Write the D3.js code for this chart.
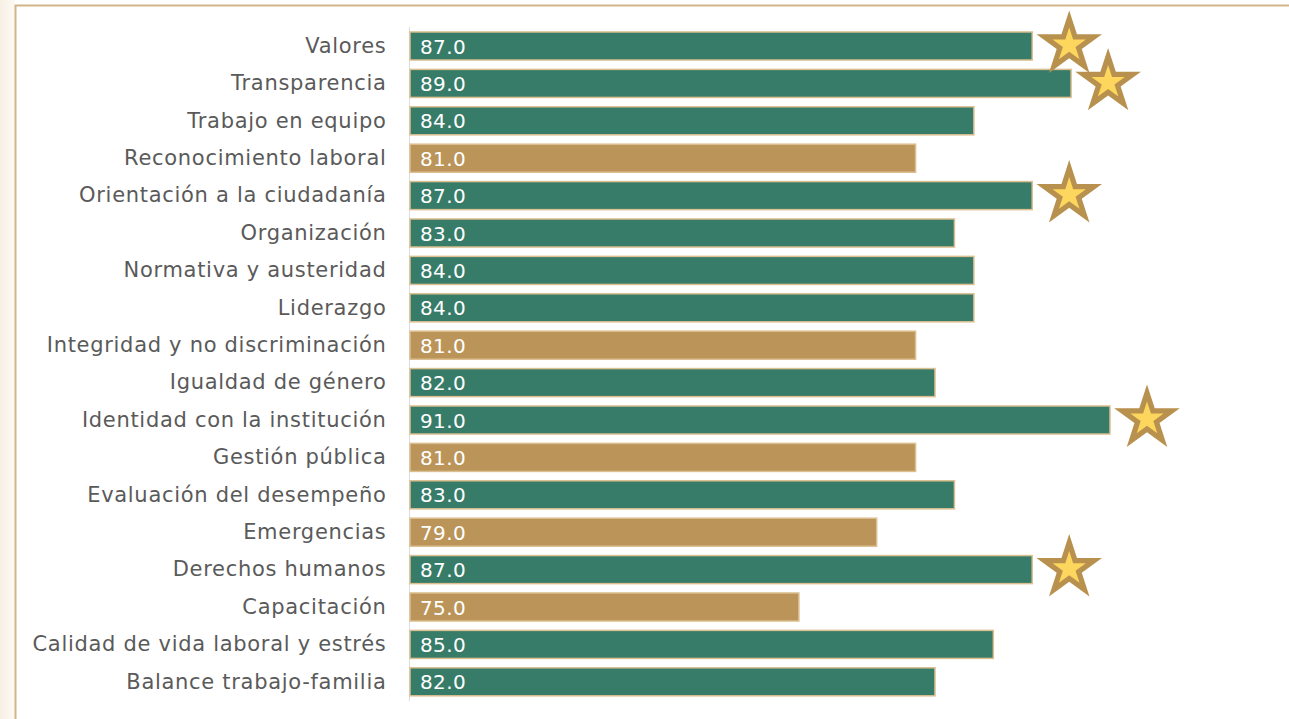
<!DOCTYPE html>
<html lang="es">
  <head>
    <meta charset="utf-8">
    <title>Resultados por factor</title>
    <script src="https://d3js.org/d3.v7.min.js"></script>
    <style>
      body {
        margin: 0;
        background-color: white;
      }
      svg {
        display: block;
        background-color: white;
      }
      .axis text {
        font-family: "DejaVu Sans", sans-serif;
        font-size: 21px;
        letter-spacing: 0.7px;
        fill: #5a5a5a;
      }
      .axis path {
        stroke: #dcdcdc;
      }
      .value {
        font-family: "DejaVu Sans", sans-serif;
        font-size: 20px;
        letter-spacing: 0.4px;
        fill: white;
      }
    </style>
  </head>
  <body>
    <script>
      var w = 1289;
      var h = 719;

      // factores, de arriba abajo
      var factores = [
        "Valores", "Transparencia", "Trabajo en equipo", "Reconocimiento laboral",
        "Orientación a la ciudadanía", "Organización", "Normativa y austeridad",
        "Liderazgo", "Integridad y no discriminación", "Igualdad de género",
        "Identidad con la institución", "Gestión pública", "Evaluación del desempeño",
        "Emergencias", "Derechos humanos", "Capacitación",
        "Calidad de vida laboral y estrés", "Balance trabajo-familia"
      ];
      var puntajes = [87, 89, 84, 81, 87, 83, 84, 84, 81, 82, 91, 81, 83, 79, 87, 75, 85, 82];
      // g = verde, o = dorado
      var grupo = ["g","g","g","o","g","g","g","g","o","g","g","o","g","o","g","o","g","g"];
      var destacados = ["Valores", "Transparencia", "Orientación a la ciudadanía",
                        "Identidad con la institución", "Derechos humanos"];

      var data = factores.map(function(f, i) {
        return { factor: f, valor: puntajes[i], grupo: grupo[i] };
      });

      var svg = d3.select("body").append("svg")
        .attr("width", w)
        .attr("height", h);

      // marco
      var grad = svg.append("defs").append("linearGradient")
        .attr("id", "sombra").attr("x1", 0).attr("x2", 1);
      grad.append("stop").attr("offset", 0).attr("stop-color", "#f7efe3");
      grad.append("stop").attr("offset", 1).attr("stop-color", "#fdfaf5");
      svg.append("rect").attr("x", 0).attr("y", 0).attr("width", 15).attr("height", h)
        .attr("fill", "url(#sombra)");
      svg.append("rect")
        .attr("x", 15.5).attr("y", 5.5).attr("width", w + 10).attr("height", h + 10)
        .attr("fill", "white").attr("stroke", "#d2b487").attr("stroke-width", 2);

      var x = d3.scaleLinear().domain([55, 91]).range([410, 1110]);
      var y = d3.scaleBand().domain(factores).range([27.3, 700.5])
        .paddingInner(0.25).paddingOuter(0.125);

      var colores = { g: "#377c68", o: "#bb9459" };

      svg.append("g")
        .attr("class", "axis")
        .attr("transform", "translate(409.5,0)")
        .call(d3.axisLeft(y).tickSize(0).tickPadding(23).tickSizeOuter(0))
        .call(function(g) { g.select(".domain").attr("d", "M0,27V701"); });

      svg.append("g").selectAll("rect")
        .data(data)
        .enter().append("rect")
        .attr("x", x(55))
        .attr("y", function(d) { return y(d.factor); })
        .attr("width", function(d) { return x(d.valor) - x(55); })
        .attr("height", y.bandwidth())
        .attr("fill", function(d) { return colores[d.grupo]; })
        .attr("stroke", "#dcbf90")
        .attr("stroke-width", 1.5);

      svg.append("g").selectAll("text")
        .data(data)
        .enter().append("text")
        .attr("class", "value")
        .attr("x", x(55) + 10)
        .attr("y", function(d) { return y(d.factor) + y.bandwidth() / 2; })
        .attr("dy", "0.38em")
        .text(function(d) { return d3.format(".1f")(d.valor); });

      // estrellas
      var ka = 0.8908130915292852;
      var estrellas = data.filter(function(d) { return destacados.indexOf(d.factor) >= 0; });
      var st = svg.append("g").selectAll("g")
        .data(estrellas)
        .enter().append("g")
        .attr("transform", function(d) {
          return "translate(" + (x(d.valor) + 37) + "," + (y(d.factor) + y.bandwidth() / 2 - 1) + ")";
        });
      st.append("path")
        .attr("d", d3.symbol(d3.symbolStar, 34.5 * 34.5 / ka))
        .attr("fill", "#b9914f");
      st.append("path")
        .attr("d", d3.symbol(d3.symbolStar, 17.5 * 17.5 / ka))
        .attr("fill", "#fdd65d");
    </script>
  </body>
</html>
